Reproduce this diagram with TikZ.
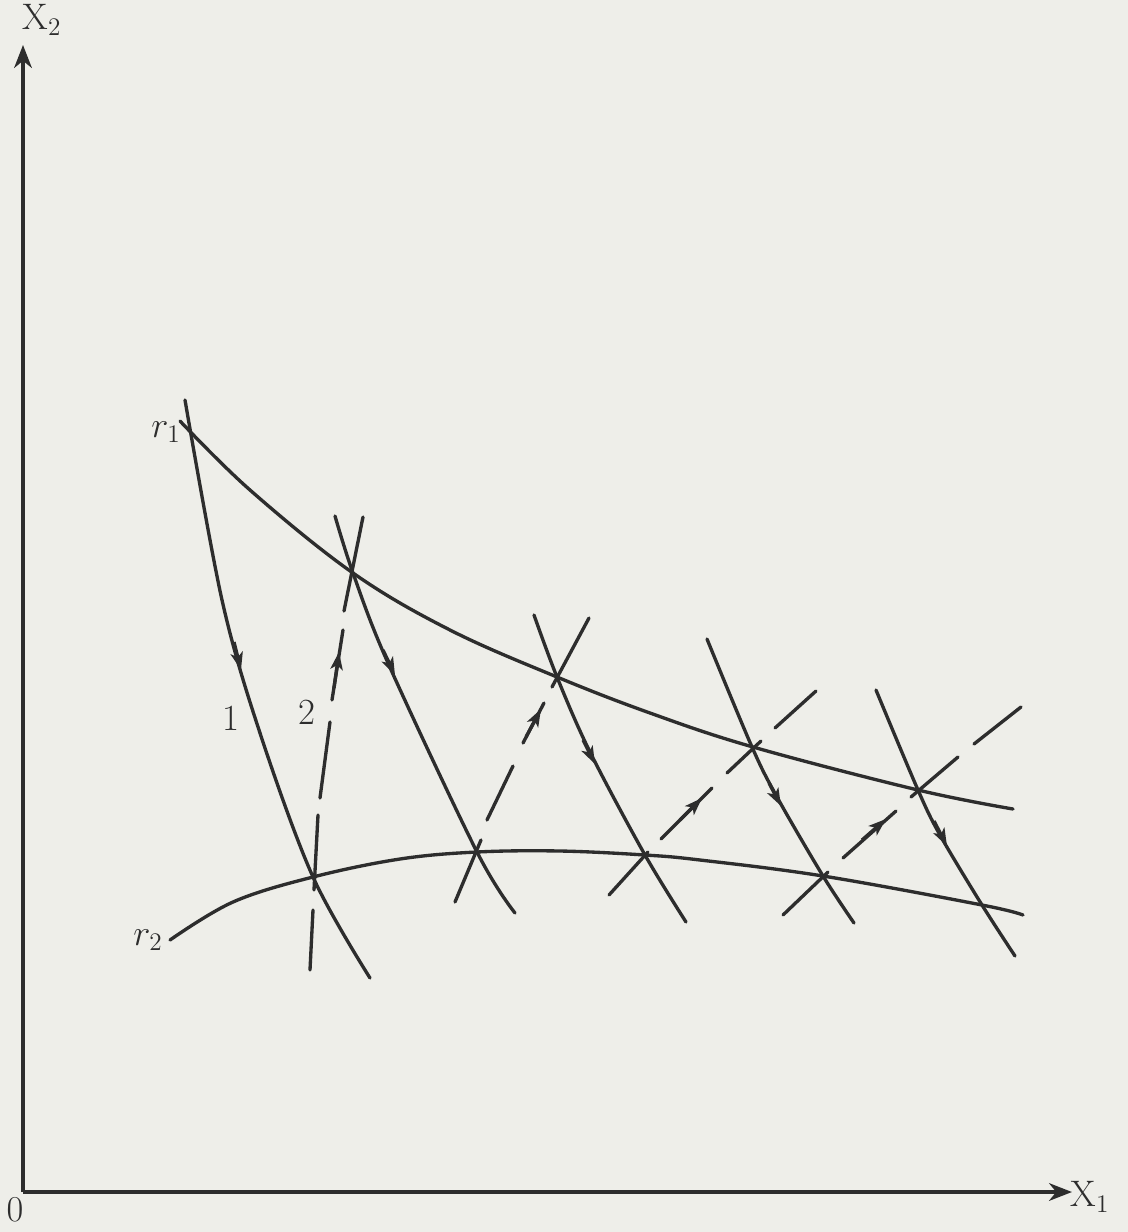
\documentclass[tikz,border=0pt]{standalone}
\usetikzlibrary{arrows.meta}
\definecolor{ink}{RGB}{45,45,45}
\definecolor{paper}{RGB}{238,238,233}
\begin{document}
\begin{tikzpicture}[x={0.02cm},y={-0.02cm},
  curve/.style={line width=1.9pt, draw=ink, line cap=round},
  axis/.style={line width=2.1pt, draw=ink, -{Stealth[length=13pt,width=10pt,inset=4pt]}},
  arr/.style={line width=1.9pt, draw=ink, fill=ink, -{Stealth[length=10pt,width=7pt,inset=2.5pt]}},
  lbl/.style={text=ink, font=\fontsize{21}{23}\selectfont, inner sep=0pt}]
\fill[paper] (0,0) rectangle (1128,1232);
\useasboundingbox (0,0) rectangle (1128,1232);
% axes
\coordinate (O) at (23,1192);
\coordinate (ytip) at (23,45);
\coordinate (xtip) at (1072,1192);
\draw[axis] (O) -- (ytip);
\draw[axis] (O) -- (xtip);
\node[lbl] (lx2) at (42,20) {X$_2$};
\node[lbl] (lx1) at (1090,1197) {X$_1$};
\node[lbl] (l0) at (15,1210) {$0$};
% curve r1
\draw[curve] plot[smooth, tension=0.6] coordinates {(180,421) (250,490) (353,573) (450,630) (557,677) (650,713) (753,747) (918,790) (1013,809)};
% curve r2
\draw[curve] plot[smooth, tension=0.6] coordinates {(170,940) (233,902) (313,877) (400,859) (477,852) (560,851) (645,855) (700,860) (823,876) (982,905) (1023,915)};
\node[lbl] (lr1) at (166,432) {$r_1$};
\node[lbl] (lr2) at (148,940) {$r_2$};
% solid flow lines (downward)
\draw[curve] plot[smooth, tension=0.55] coordinates {(185,400) (222,600) (260,733) (313,877) (370,978)};
\draw[curve] plot[smooth, tension=0.55] coordinates {(335,516) (353,573) (388,663) (477,852) (515,913)};
\draw[curve] plot[smooth, tension=0.55] coordinates {(534,615) (557,677) (590,752) (645,855) (686,922)};
\draw[curve] plot[smooth, tension=0.55] coordinates {(707,639) (752,747) (777,797) (823,876) (854,923)};
\draw[curve] plot[smooth, tension=0.55] coordinates {(876,690) (918,790) (940,835) (982,905) (1015,956)};
\draw[arr] (234,642) -- (241,670);
\draw[arr] (383,650) -- (395,675);
\draw[arr] (583,740) -- (595,764);
\draw[arr] (769,783) -- (781,806);
\draw[arr] (934,821) -- (947,846);
% dashed lines (upward)
\draw[curve] (310,970) -- (313,910);
\draw[curve] (314,890) -- (318,815);
\draw[curve] (320,798) -- (330,722);
\draw[curve] (332,700) -- (343,630);
\draw[curve] (344,611) -- (363,517);
\draw[arr] (334,688) -- (339,652);
\draw[curve] (455,902) -- (481,840);
\draw[curve] (487,820) -- (513,766);
\draw[curve] (523,743) -- (544,703);
\draw[curve] (552,687) -- (589,618);
\draw[arr] (526,737) -- (541,709);
\draw[curve] (609,895) -- (648,852);
\draw[curve] (661,839) -- (712,788);
\draw[curve] (727,773) -- (761,741);
\draw[curve] (775,728) -- (816,691);
\draw[arr] (680,820) -- (702,798);
\draw[curve] (783,915) -- (828,872);
\draw[curve] (843,858) -- (896,811);
\draw[curve] (911,797) -- (958,757);
\draw[curve] (974,744) -- (1021,707);
\draw[arr] (862,840) -- (886,819);
\node[lbl] (l1) at (231,718) {1};
\node[lbl] (l2) at (307,712) {2};
\end{tikzpicture}
\end{document}
